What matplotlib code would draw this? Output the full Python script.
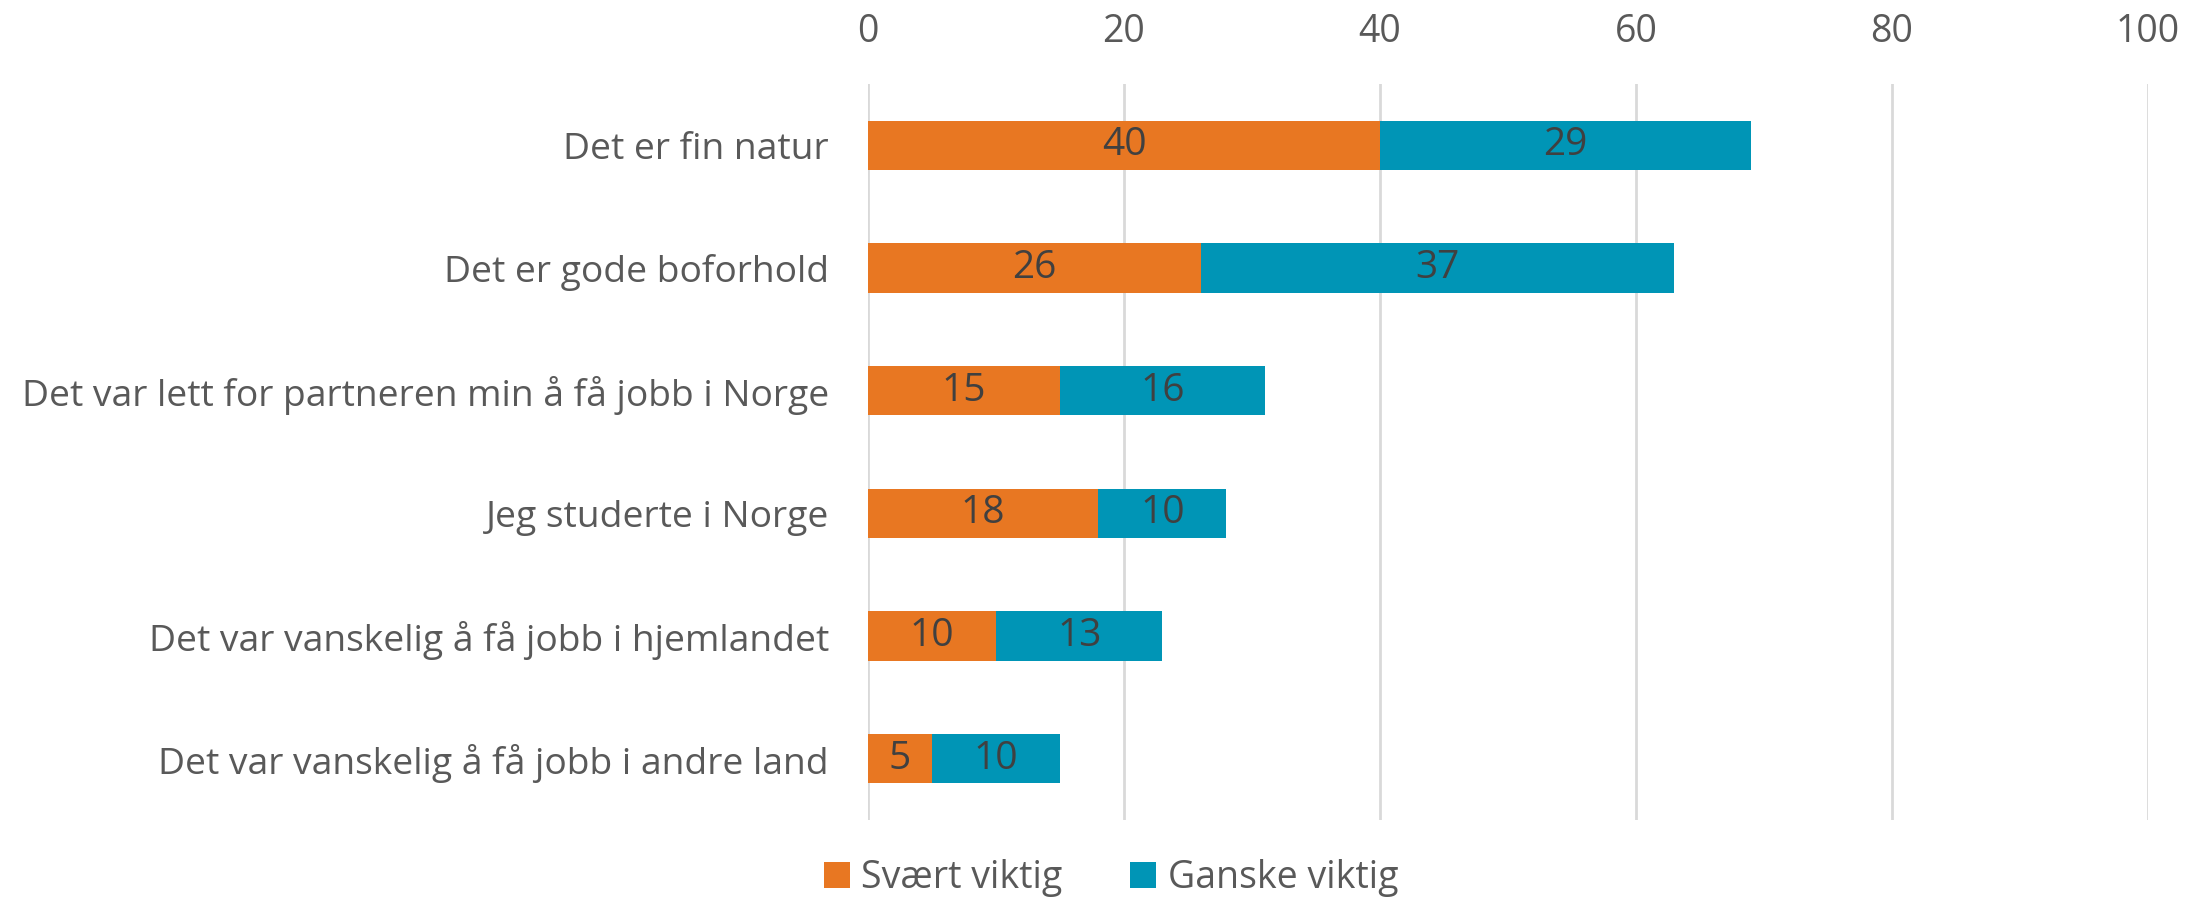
import matplotlib.pyplot as plt

# datos
categorias = ["Det er fin natur",
              "Det er gode boforhold",
              "Det var lett for partneren min å få jobb i Norge",
              "Jeg studerte i Norge",
              "Det var vanskelig å få jobb i hjemlandet",
              "Det var vanskelig å få jobb i andre land"]
svaert_viktig = [40, 26, 15, 18, 10, 5]
ganske_viktig = [29, 37, 16, 10, 13, 10]
serier = ["Svært viktig", "Ganske viktig"]
ticks_x = [0, 20, 40, 60, 80, 100]

plt.rcParams['font.family'] = ['Open Sans', 'DejaVu Sans']

fig = plt.figure(figsize=(22.06, 9.02), dpi=100)
ax = fig.add_axes([868 / 2206, 82 / 902, 1280 / 2206, 736 / 902])

pos = list(range(len(categorias)))
b1 = ax.barh(pos, svaert_viktig, height=0.4, color="#E87722", label=serier[0], zorder=3)
b2 = ax.barh(pos, ganske_viktig, left=svaert_viktig, height=0.4, color="#0095B6",
             label=serier[1], zorder=3)

for barras in (b1, b2):
    ax.bar_label(barras, label_type="center", fontsize=28, color="#404040")

ax.set_yticks(pos)
ax.set_yticklabels(categorias, fontsize=26.8, color="#595959")
ax.set_ylim(len(categorias) - 0.5, -0.5)
ax.set_xlim(0, 100)
ax.set_xticks(ticks_x)
ax.xaxis.tick_top()
ax.tick_params(axis="x", labelsize=27, labelcolor="#595959", length=0, pad=24)
ax.tick_params(axis="y", length=0, pad=28)
ax.grid(axis="x", color="#D9D9D9", linewidth=2, zorder=0)
for s in ax.spines.values():
    s.set_visible(False)

fig.legend(handles=[b1, b2], labels=serier, loc="center", bbox_to_anchor=(1111 / 2206, 1 - 878 / 902),
           ncol=2, frameon=False, fontsize=27, labelcolor="#595959", handlelength=0.7,
           handleheight=0.7, handletextpad=0.3, columnspacing=1.8)

fig.savefig("out.png")
